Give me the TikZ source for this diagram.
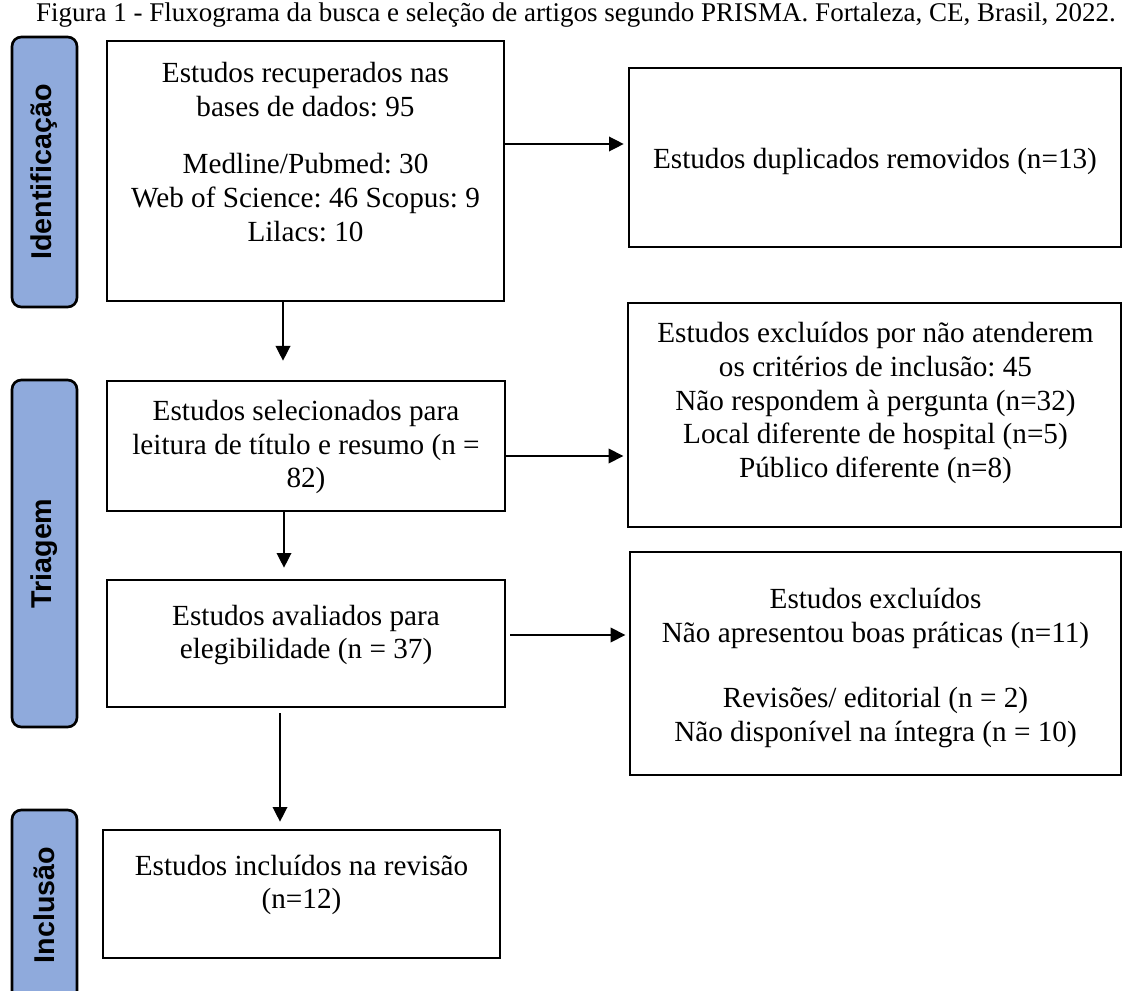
\documentclass[tikz,border=0pt]{standalone}
\usepackage{fontspec}
\setmainfont{Liberation Serif}
\newfontfamily\lsans{Liberation Sans}
\usetikzlibrary{arrows.meta}
\frenchspacing
\definecolor{phaseblue}{HTML}{8FAADC}
\tikzset{
  box/.style={draw=black, line width=2pt, inner sep=0pt},
  txt/.style={align=center, inner sep=0pt, font=\frenchspacing\fontsize{21.9pt}{25.3pt}\selectfont},
  phase/.style={draw=black, line width=2pt, fill=phaseblue, rounded corners=7pt, inner sep=0pt, rotate=90,
    font=\lsans\bfseries\fontsize{21.5pt}{24pt}\selectfont},
  arr/.style={line width=1pt, -{Triangle[length=11pt,width=11pt]}},
}
\begin{document}
\begin{tikzpicture}[x=0.75pt, y=-0.75pt]
\useasboundingbox (0,0) rectangle (1125,991);
\clip (0,0) rectangle (1125,991);
% caption
\node[anchor=base, inner sep=0pt, font=\frenchspacing\fontsize{20.25pt}{24pt}\selectfont] (cap) at (576,22)
  {Figura 1 - Fluxograma da busca e seleção de artigos segundo PRISMA. Fortaleza, CE, Brasil, 2022.};
% phase bars
\node[phase, minimum width=270*0.75pt, minimum height=65*0.75pt] (p1) at (44.5,172) {Identificação};
\node[phase, minimum width=347*0.75pt, minimum height=65*0.75pt] (p2) at (44.5,553.5) {Triagem};
\node[phase, minimum width=190*0.75pt, minimum height=65*0.75pt] (p3) at (44.5,905) {Inclusão};
% boxes
\node[box, minimum width=397*0.75pt, minimum height=260*0.75pt] (b1) at (305.5,171) {};
\node[box, minimum width=492*0.75pt, minimum height=179*0.75pt] (b2) at (875,157.5) {};
\node[box, minimum width=398*0.75pt, minimum height=130*0.75pt] (b3) at (306,446) {};
\node[box, minimum width=493*0.75pt, minimum height=224*0.75pt] (b4) at (874.5,415) {};
\node[box, minimum width=398*0.75pt, minimum height=127*0.75pt] (b5) at (306,643.5) {};
\node[box, minimum width=491*0.75pt, minimum height=223*0.75pt] (b6) at (875.5,663.5) {};
\node[box, minimum width=397*0.75pt, minimum height=128*0.75pt] (b7) at (301.5,894) {};
% texts
\node[txt] (t1) at (305.5,152) {Estudos recuperados nas\\ bases de dados: 95\\[18pt] Medline/Pubmed: 30\\ Web of Science: 46 Scopus: 9\\ Lilacs: 10};
\node[txt] (t2) at (875,161) {Estudos duplicados removidos (n=13)};
\node[txt] (t3) at (306,447) {Estudos selecionados para\\ leitura de título e resumo (n =\\ 82)};
\node[txt] (t4) at (875.5,403) {Estudos excluídos por não atenderem\\ os critérios de inclusão: 45\\ Não respondem à pergunta (n=32)\\ Local diferente de hospital (n=5)\\ Público diferente (n=8)};
\node[txt] (t5) at (306,635) {Estudos avaliados para\\ elegibilidade (n = 37)};
\node[txt] (t6) at (875.5,668) {Estudos excluídos\\ Não apresentou boas práticas (n=11)\\[24pt] Revisões/ editorial (n = 2)\\ Não disponível na íntegra (n = 10)};
\node[txt] (t7) at (301.5,885) {Estudos incluídos na revisão\\ (n=12)};
% connector guides
\coordinate (ya) at (0,144);
\coordinate (yb) at (0,456);
\coordinate (yc) at (0,635);
\coordinate (xa) at (283,0);
\coordinate (xb) at (284,0);
\coordinate (xc) at (280,0);
% connectors
\draw[arr, shorten >=3pt] (b1.east |- ya) -- (b2.west |- ya);
\draw[arr, shorten >=14.25pt] (b1.south -| xa) -- (b3.north -| xa);
\draw[arr, shorten >=2.5pt] (b3.east |- yb) -- (b4.west |- yb);
\draw[arr, shorten >=8.25pt] (b3.south -| xb) -- (b5.north -| xb);
\draw[arr, shorten <=3pt, shorten >=2.5pt] (b5.east |- yc) -- (b6.west |- yc);
\draw[arr, shorten <=3.75pt, shorten >=5.25pt] (b5.south -| xc) -- (b7.north -| xc);
\end{tikzpicture}
\end{document}
